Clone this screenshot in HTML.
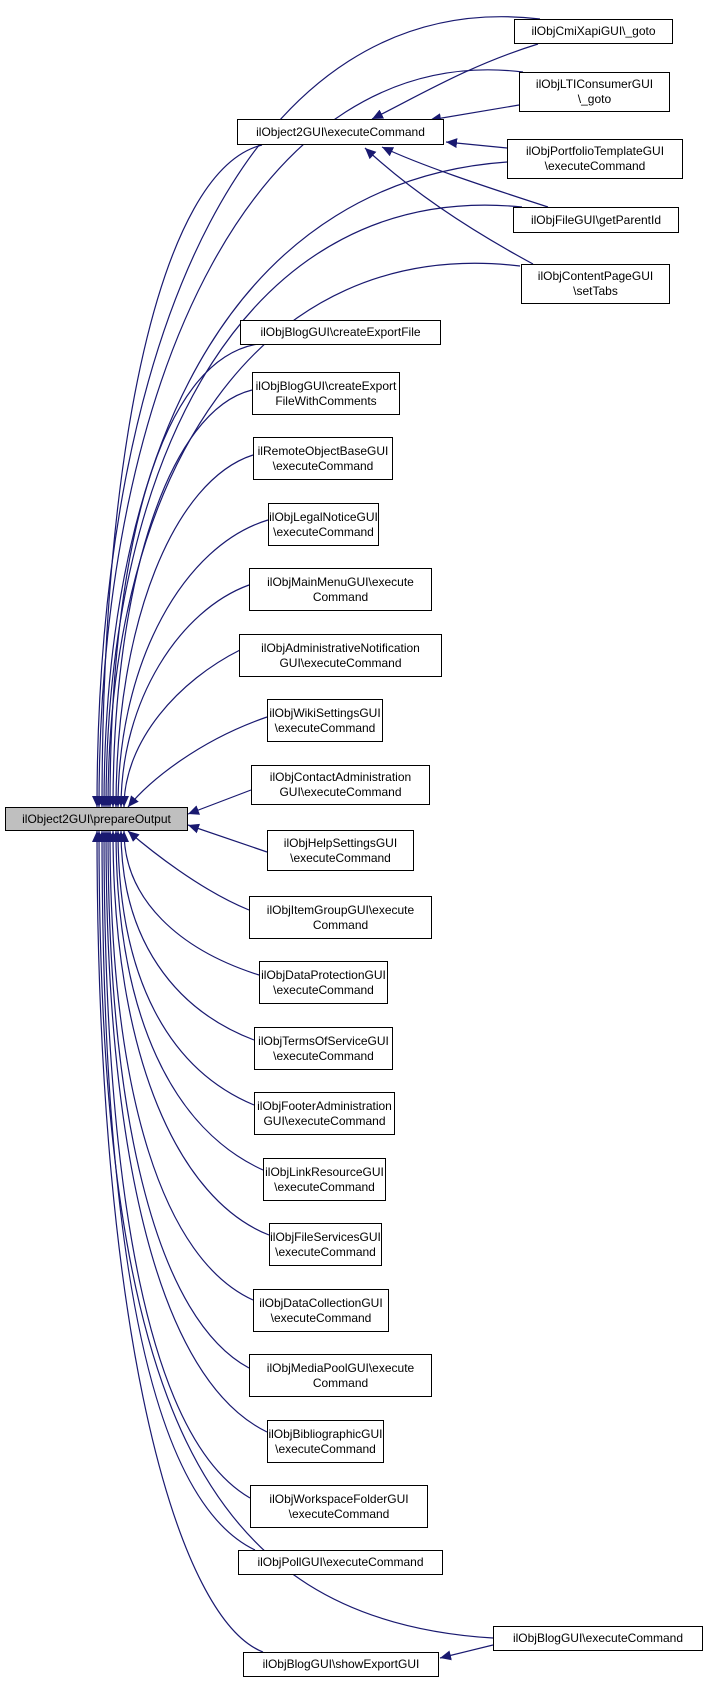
<!DOCTYPE html>
<html><head><meta charset="utf-8"><style>
body{margin:0;background:#fff;}
#c{position:relative;width:704px;height:1683px;overflow:hidden;}
.n{position:absolute;box-sizing:border-box;border:1px solid #000;background:#fff;font-family:"Liberation Sans",sans-serif;font-size:12px;line-height:15px;text-align:center;display:flex;align-items:center;justify-content:center;color:#000;white-space:nowrap;}
svg{position:absolute;left:0;top:0;}
</style></head><body><div id="c">
<svg width="704" height="1683" viewBox="0 0 704 1683">
<defs><marker id="a" markerUnits="userSpaceOnUse" markerWidth="12" markerHeight="10" refX="11" refY="5" orient="auto"><path d="M0,0 L11,5 L0,10 z" fill="#191970"/></marker></defs>
<g fill="none" stroke="#191970" stroke-width="1.2" marker-end="url(#a)">
<path d="M540,19 C250,-15 97,334 97,807"/>
<path d="M523,72 C260,40 99,370 99,807"/>
<path d="M262,145 C160,170 102,450 102,807"/>
<path d="M507,162 C250,180 104,420 104,807"/>
<path d="M522,207 C250,180 106,450 106,807"/>
<path d="M520,266 C260,235 108,470 108,807"/>
<path d="M258,344 C160,360 110,550 110,807"/>
<path d="M252,390 C170,410 113,580 113,807"/>
<path d="M253,455 C175,480 116,620 116,807"/>
<path d="M268,520 C185,545 118,660 118,807"/>
<path d="M249,585 C180,610 121,700 121,807"/>
<path d="M240,650 C180,680 124,740 124,807"/>
<path d="M267,717 C200,740 150,780 128,807"/>
<path d="M251,790 L188,814"/>
<path d="M267,852 L188,825"/>
<path d="M249,910 C200,890 150,850 128,831"/>
<path d="M259,975 C180,950 124,900 124,831"/>
<path d="M254,1040 C175,1010 121,940 121,831"/>
<path d="M254,1105 C170,1070 118,980 118,831"/>
<path d="M263,1170 C175,1130 116,1020 116,831"/>
<path d="M269,1235 C180,1200 113,1060 113,831"/>
<path d="M253,1300 C165,1260 110,1100 110,831"/>
<path d="M249,1368 C160,1320 108,1130 108,831"/>
<path d="M267,1432 C160,1380 106,1160 106,831"/>
<path d="M250,1498 C150,1440 104,1200 104,831"/>
<path d="M255,1550 C150,1500 102,1250 102,831"/>
<path d="M493,1638 C200,1620 99,1400 99,831"/>
<path d="M263,1652 C180,1620 97,1350 97,831"/>
<path d="M538,44 C470,65 420,95 372,119"/>
<path d="M519,105 L430,120"/>
<path d="M507,148 L446,142"/>
<path d="M548,207 C480,185 420,165 382,147"/>
<path d="M533,264 C470,230 410,190 365,148"/>
<path d="M493,1645 L440,1658"/>
</g></svg>
<div class="n" style="left:514px;top:19px;width:159px;height:25px">ilObjCmiXapiGUI\_goto</div>
<div class="n" style="left:519px;top:72px;width:151px;height:40px">ilObjLTIConsumerGUI<br>\_goto</div>
<div class="n" style="left:237px;top:119px;width:207px;height:26px">ilObject2GUI\executeCommand</div>
<div class="n" style="left:507px;top:139px;width:176px;height:40px">ilObjPortfolioTemplateGUI<br>\executeCommand</div>
<div class="n" style="left:513px;top:207px;width:166px;height:26px">ilObjFileGUI\getParentId</div>
<div class="n" style="left:521px;top:264px;width:149px;height:40px">ilObjContentPageGUI<br>\setTabs</div>
<div class="n" style="left:240px;top:320px;width:201px;height:25px">ilObjBlogGUI\createExportFile</div>
<div class="n" style="left:252px;top:372px;width:148px;height:43px">ilObjBlogGUI\createExport<br>FileWithComments</div>
<div class="n" style="left:253px;top:437px;width:140px;height:43px">ilRemoteObjectBaseGUI<br>\executeCommand</div>
<div class="n" style="left:268px;top:503px;width:111px;height:43px">ilObjLegalNoticeGUI<br>\executeCommand</div>
<div class="n" style="left:249px;top:568px;width:183px;height:43px">ilObjMainMenuGUI\execute<br>Command</div>
<div class="n" style="left:239px;top:634px;width:203px;height:43px">ilObjAdministrativeNotification<br>GUI\executeCommand</div>
<div class="n" style="left:267px;top:699px;width:116px;height:43px">ilObjWikiSettingsGUI<br>\executeCommand</div>
<div class="n" style="left:251px;top:765px;width:179px;height:40px">ilObjContactAdministration<br>GUI\executeCommand</div>
<div class="n" style="left:5px;top:807px;width:183px;height:24px;background:#bfbfbf">ilObject2GUI\prepareOutput</div>
<div class="n" style="left:267px;top:830px;width:147px;height:41px">ilObjHelpSettingsGUI<br>\executeCommand</div>
<div class="n" style="left:249px;top:896px;width:183px;height:43px">ilObjItemGroupGUI\execute<br>Command</div>
<div class="n" style="left:259px;top:961px;width:129px;height:43px">ilObjDataProtectionGUI<br>\executeCommand</div>
<div class="n" style="left:254px;top:1027px;width:139px;height:43px">ilObjTermsOfServiceGUI<br>\executeCommand</div>
<div class="n" style="left:254px;top:1092px;width:141px;height:43px">ilObjFooterAdministration<br>GUI\executeCommand</div>
<div class="n" style="left:263px;top:1158px;width:123px;height:43px">ilObjLinkResourceGUI<br>\executeCommand</div>
<div class="n" style="left:269px;top:1223px;width:113px;height:43px">ilObjFileServicesGUI<br>\executeCommand</div>
<div class="n" style="left:253px;top:1289px;width:136px;height:43px">ilObjDataCollectionGUI<br>\executeCommand</div>
<div class="n" style="left:249px;top:1354px;width:183px;height:43px">ilObjMediaPoolGUI\execute<br>Command</div>
<div class="n" style="left:267px;top:1420px;width:117px;height:43px">ilObjBibliographicGUI<br>\executeCommand</div>
<div class="n" style="left:250px;top:1485px;width:178px;height:43px">ilObjWorkspaceFolderGUI<br>\executeCommand</div>
<div class="n" style="left:238px;top:1550px;width:205px;height:25px">ilObjPollGUI\executeCommand</div>
<div class="n" style="left:493px;top:1626px;width:210px;height:25px">ilObjBlogGUI\executeCommand</div>
<div class="n" style="left:243px;top:1652px;width:196px;height:25px">ilObjBlogGUI\showExportGUI</div>
</div></body></html>
